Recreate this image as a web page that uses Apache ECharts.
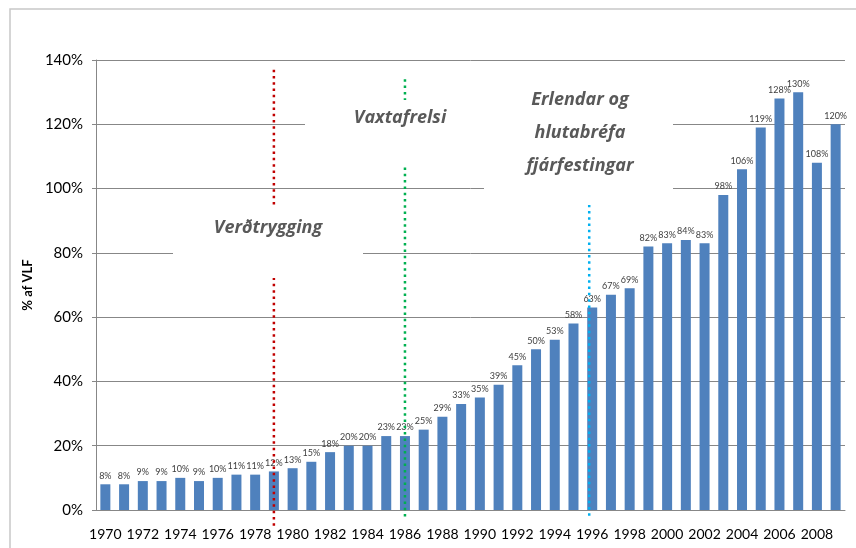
<!DOCTYPE html>
<html>
<head>
<meta charset="utf-8">
<script src="https://cdn.jsdelivr.net/npm/echarts@6/dist/echarts.min.js"></script>
<style>
  html, body { margin: 0; padding: 0; background: #fff; }
  #chart { width: 856px; height: 548px; }
</style>
</head>
<body>
<div id="chart"></div>
<script>
// values
const years = ['1970','1971','1972','1973','1974','1975','1976','1977','1978','1979',
  '1980','1981','1982','1983','1984','1985','1986','1987','1988','1989',
  '1990','1991','1992','1993','1994','1995','1996','1997','1998','1999',
  '2000','2001','2002','2003','2004','2005','2006','2007','2008','2009'];
const shares = [8, 8, 9, 9, 10, 9, 10, 11, 11, 12,
  13, 15, 18, 20, 20, 23, 23, 25, 29, 33,
  35, 39, 45, 50, 53, 58, 63, 67, 69, 82,
  83, 84, 83, 98, 106, 119, 128, 130, 108, 120];

// marked events (year of the dotted line)
const eventYears = ['1979', '1986', '1996'];
const eventNames = ['Verðtrygging', 'Vaxtafrelsi', 'Erlendar og\nhlutabréfa\nfjárfestingar'];
const eventTop = [137, 134, 95];     // % level where each dotted line starts
const eventBottom = [-5, -3, -3];    // runs a bit below the axis

const eventColors = ['#C00000', '#00B050', '#00B0F0'];
const gridColor = '#878787';
const font = 'Lato, "Open Sans", sans-serif';
const noteFont = '"Open Sans", Lato, sans-serif';

const chart = echarts.init(document.getElementById('chart'));

const option = {
  animation: false,
  textStyle: { fontFamily: font },
  grid: { left: 96, right: 11, top: 60, bottom: 38 },
  xAxis: {
    type: 'category',
    data: years,
    axisLine: { lineStyle: { color: gridColor } },
    axisTick: { show: false },
    axisLabel: { interval: 1, color: '#000', fontSize: 14, margin: 17 }
  },
  yAxis: {
    type: 'value',
    min: 0,
    max: 140,
    interval: 20,
    name: '% af VLF',
    nameLocation: 'middle',
    nameRotate: 90,
    nameGap: 60,
    nameTextStyle: { fontWeight: 'bold', fontSize: 13, color: '#000' },
    axisLine: { show: true, lineStyle: { color: gridColor } },
    axisTick: { show: true, length: 4, lineStyle: { color: gridColor } },
    axisLabel: { formatter: '{value}%', color: '#000', fontSize: 15, margin: 13 },
    splitLine: { lineStyle: { color: gridColor } }
  },
  series: [{
    type: 'bar',
    data: shares,
    barWidth: 10,
    itemStyle: { color: '#4F81BD' },
    label: {
      show: true,
      position: 'top',
      distance: 4,
      formatter: '{c}%',
      fontSize: 9,
      color: '#404040'
    }
  }]
};
chart.setOption(option);

// dotted event lines, white text boxes and the outer frame
const graphics = [{
  type: 'rect',
  shape: { x: 10, y: 9, width: 900, height: 600 },
  style: { fill: 'none', stroke: '#c8c8c8', lineWidth: 1.5 },
  z: 1
}];

eventYears.forEach(function (y, i) {
  const x = chart.convertToPixel({ xAxisIndex: 0 }, y) - (i === 2 ? 3 : 0);
  const y1 = chart.convertToPixel({ yAxisIndex: 0 }, eventTop[i]);
  const y2 = chart.convertToPixel({ yAxisIndex: 0 }, eventBottom[i]);
  graphics.push({
    type: 'line',
    shape: { x1: x, y1: y1, x2: x, y2: y2 },
    style: { stroke: eventColors[i], lineWidth: 2.5, lineDash: [2.5, 3.8] },
    z: 20
  });
});

// boxes that sit over the gridlines
const boxes = [
  { x: 173, y: 205, width: 190, height: 73 },
  { x: 305, y: 100, width: 179, height: 67 },
  { x: 484, y: 70, width: 189, height: 135 }
];
const labelPos = [[268, 228], [400, 118], [580, 133]];

boxes.forEach(function (b, i) {
  graphics.push({
    type: 'rect',
    shape: b,
    style: { fill: '#fff' },
    z: 30
  });
  graphics.push({
    type: 'text',
    x: labelPos[i][0],
    y: labelPos[i][1],
    style: {
      text: eventNames[i],
      fill: '#595959',
      font: 'italic bold 18px ' + noteFont,
      align: 'center',
      verticalAlign: 'middle',
      lineHeight: 33
    },
    z: 31
  });
});

chart.setOption({ graphic: graphics });
</script>
</body>
</html>
